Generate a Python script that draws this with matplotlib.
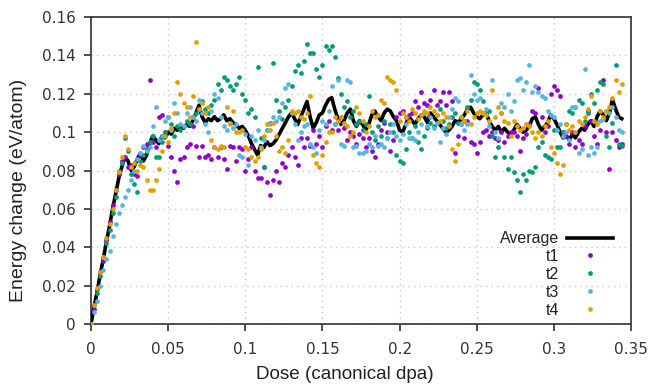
import numpy as np
import matplotlib
matplotlib.use('Agg')
import matplotlib.pyplot as plt
from matplotlib.ticker import FuncFormatter

plt.rcParams['font.family'] = ['Liberation Sans', 'DejaVu Sans']

# dose grid (canonical dpa), one sample every 0.002
dose = np.arange(173) * 0.002

# averaged energy change (eV/atom)
average = [
    0, .009, .017, .026, .034, .043, .051, .060, .068, .076,
    .082, .087, .085, .080, .082, .086, .089, .085, .088, .094,
    .098, .096, .094, .098, .097, .100, .099, .102, .101, .103,
    .102, .104, .103, .106, .110, .114, .108, .105, .107, .106,
    .108, .106, .107, .109, .106, .107, .105, .104, .102, .103,
    .101, .098, .094, .091, .088, .093, .092, .095, .093, .094,
    .096, .099, .102, .105, .108, .110, .107, .104, .108, .112,
    .116, .108, .102, .105, .109, .110, .114, .117, .118, .112,
    .107, .104, .106, .110, .112, .106, .103, .106, .104, .101,
    .104, .109, .111, .108, .106, .110, .112, .111, .108, .106,
    .101, .100, .104, .108, .106, .104, .107, .109, .108, .105,
    .110, .108, .106, .104, .102, .100, .101, .103, .106, .105,
    .107, .109, .112, .113, .110, .108, .107, .109, .110, .106,
    .103, .101, .103, .100, .102, .100, .099, .101, .104, .102,
    .100, .101, .103, .107, .108, .104, .101, .103, .105, .109,
    .107, .104, .100, .097, .098, .096, .099, .097, .100, .102,
    .101, .104, .106, .103, .108, .111, .109, .106, .110, .117,
    .112, .108, .107,
]

t1 = [
    0, .008, .018, .027, .033, .044, .053, .062, .070, .078,
    .085, .087, .082, .083, .078, .077, .088, .092, .094, .127,
    .095, .092, .108, .109, .100, .093, .087, .080, .074, .086,
    .087, .092, .094, .103, .093, .087, .093, .087, .088, .086,
    .092, .087, .092, .086, .081, .093, .092, .085, .092, .091,
    .080, .086, .092, .080, .076, .076, .082, .074, .067, .075,
    .080, .074, .084, .082, .088, .092, .087, .083, .097, .092,
    .097, .093, .101, .094, .098, .092, .103, .106, .101, .104,
    .101, .108, .102, .096, .100, .098, .094, .099, .097, .092,
    .097, .090, .087, .094, .101, .105, .100, .090, .096, .108,
    .110, .111, .108, .109, .110, .116, .113, .121, .115, .114,
    .117, .122, .114, .116, .121, .114, .121, .116, .089, .098,
    .104, .097, .106, .095, .094, .089, .095, .100, .101, .098,
    .100, .097, .096, .100, .095, .098, .100, .100, .098, .090,
    .097, .099, .104, .111, .110, .123, .108, .100, .103, .120,
    .124, .122, .119, .100, .098, .094, .100, .092, .096, .094,
    .103, .111, .106, .098, .094, .101, .127, .100, .081, .100,
    .096, .092, .094,
]

t2 = [
    0, .010, .016, .025, .035, .042, .049, .058, .066, .080,
    .084, .097, .090, .078, .073, .069, .085, .088, .091, .095,
    .098, .087, .087, .095, .100, .108, .104, .098, .103, .101,
    .103, .106, .104, .108, .110, .112, .116, .112, .110, .114,
    .117, .125, .122, .129, .127, .124, .122, .125, .129, .120,
    .117, .110, .112, .108, .134, .097, .082, .101, .105, .136,
    .117, .111, .107, .113, .117, .124, .132, .135, .131, .137,
    .146, .141, .141, .133, .129, .135, .145, .143, .145, .139,
    .128, .120, .113, .116, .108, .111, .104, .106, .101, .104,
    .119, .100, .096, .103, .098, .106, .097, .104, .100, .088,
    .085, .084, .091, .100, .097, .103, .095, .091, .098, .102,
    .105, .103, .109, .112, .106, .102, .104, .108, .110, .105,
    .108, .106, .113, .117, .126, .125, .122, .116, .110, .111,
    .098, .087, .092, .110, .087, .081, .087, .079, .075, .069,
    .078, .075, .080, .079, .082, .092, .095, .088, .087, .086,
    .101, .092, .092, .100, .104, .111, .110, .113, .117, .115,
    .106, .110, .120, .115, .122, .126, .125, .098, .092, .105,
    .135, .094, .093,
]

t3 = [
    0, .006, .012, .020, .028, .034, .038, .046, .052, .058,
    .062, .066, .070, .075, .080, .086, .089, .093, .090, .092,
    .103, .113, .096, .098, .106, .108, .101, .115, .110, .104,
    .103, .110, .113, .108, .106, .117, .110, .104, .100, .111,
    .120, .118, .108, .103, .101, .105, .102, .104, .088, .087,
    .099, .083, .098, .096, .101, .092, .096, .101, .104, .108,
    .106, .108, .115, .123, .125, .110, .104, .096, .100, .103,
    .104, .094, .092, .089, .101, .106, .104, .111, .124, .104,
    .127, .094, .093, .127, .126, .092, .093, .089, .089, .090,
    .094, .092, .098, .093, .094, .092, .097, .100, .104, .098,
    .096, .099, .104, .097, .097, .096, .100, .104, .110, .103,
    .108, .102, .105, .095, .102, .099, .108, .112, .118, .116,
    .104, .101, .104, .130, .120, .117, .118, .110, .112, .103,
    .127, .100, .097, .115, .113, .120, .111, .116, .127, .128,
    .122, .126, .135, .121, .124, .121, .119, .118, .111, .109,
    .108, .101, .104, .098, .100, .096, .113, .113, .089, .091,
    .133, .088, .092, .089, .092, .106, .107, .111, .110, .113,
    .108, .101, .100,
]

t4 = [
    0, .010, .019, .027, .035, .045, .052, .060, .070, .079,
    .087, .098, .091, .082, .084, .080, .083, .082, .075, .070,
    .070, .075, .081, .090, .098, .095, .102, .110, .126, .120,
    .115, .113, .108, .119, .147, .112, .115, .110, .113, .096,
    .092, .091, .093, .092, .113, .104, .111, .100, .100, .101,
    .092, .091, .087, .085, .087, .091, .098, .104, .101, .105,
    .098, .090, .092, .089, .096, .111, .110, .111, .108, .107,
    .110, .119, .088, .084, .082, .088, .095, .100, .100, .108,
    .106, .108, .105, .103, .098, .100, .113, .110, .106, .100,
    .103, .111, .108, .109, .117, .115, .129, .127, .126, .122,
    .106, .110, .108, .106, .112, .110, .107, .109, .111, .110,
    .113, .111, .109, .106, .110, .108, .103, .091, .085, .094,
    .108, .106, .111, .104, .108, .110, .111, .110, .109, .106,
    .122, .108, .113, .110, .106, .105, .098, .106, .103, .101,
    .102, .104, .103, .100, .097, .100, .098, .103, .106, .092,
    .089, .084, .078, .083, .104, .101, .103, .100, .106, .104,
    .108, .112, .119, .106, .104, .111, .108, .111, .113, .118,
    .127, .121, .125,
]

series = [('t1', t1, '#9400d3'), ('t2', t2, '#009e73'),
          ('t3', t3, '#56b4e9'), ('t4', t4, '#e69f00')]

fig = plt.figure(figsize=(6.51, 3.87), dpi=100)
ax = fig.add_axes([0.1398, 0.1628, 0.8295, 0.7932])

ax.plot(dose, average, color='black', lw=2.6, label='Average', zorder=3)
for i, (name, vals, col) in enumerate(series):
    ax.plot(dose, vals, linestyle='none', marker='o', markersize=3.4,
            markeredgewidth=0, color=col, label=name, zorder=4 + i)

ax.set_xlim(0, 0.35)
ax.set_ylim(0, 0.16)
ax.set_xticks(np.arange(0, 0.351, 0.05))
ax.set_yticks(np.arange(0, 0.161, 0.02))
fmt = FuncFormatter(lambda v, p: '%g' % round(v, 3))
ax.xaxis.set_major_formatter(fmt)
ax.yaxis.set_major_formatter(fmt)

ax.grid(True, color='#c8c8c8', linestyle=(0, (1, 3)), lw=1)
ax.set_axisbelow(True)
for s in ax.spines.values():
    s.set_color('#404040')
    s.set_linewidth(1.3)
ax.tick_params(direction='out', length=5, width=1.3, color='#404040',
               labelcolor='#333333')
ax.tick_params(axis='x', pad=8)
ax.tick_params(axis='y', pad=6)
for lab in ax.get_xticklabels() + ax.get_yticklabels():
    lab.set_fontfamily('DejaVu Sans')
    lab.set_fontsize(11)

ax.set_xlabel('Dose (canonical dpa)', fontsize=13.6, color='#222222')
ax.xaxis.set_label_coords(0.47, -0.137)
ax.set_ylabel('Energy change (eV/atom)', fontsize=14, color='#222222')
ax.yaxis.set_label_coords(-0.118, 0.436)

leg = ax.legend(loc='lower right', bbox_to_anchor=(0.993, -0.026), frameon=False,
                markerfirst=False, fontsize=11.5, handlelength=2.85,
                handletextpad=0.5, labelspacing=0.18, numpoints=1)
for t in leg.get_texts():
    t.set_color('#222222')

fig.savefig('out.png', dpi=100)
